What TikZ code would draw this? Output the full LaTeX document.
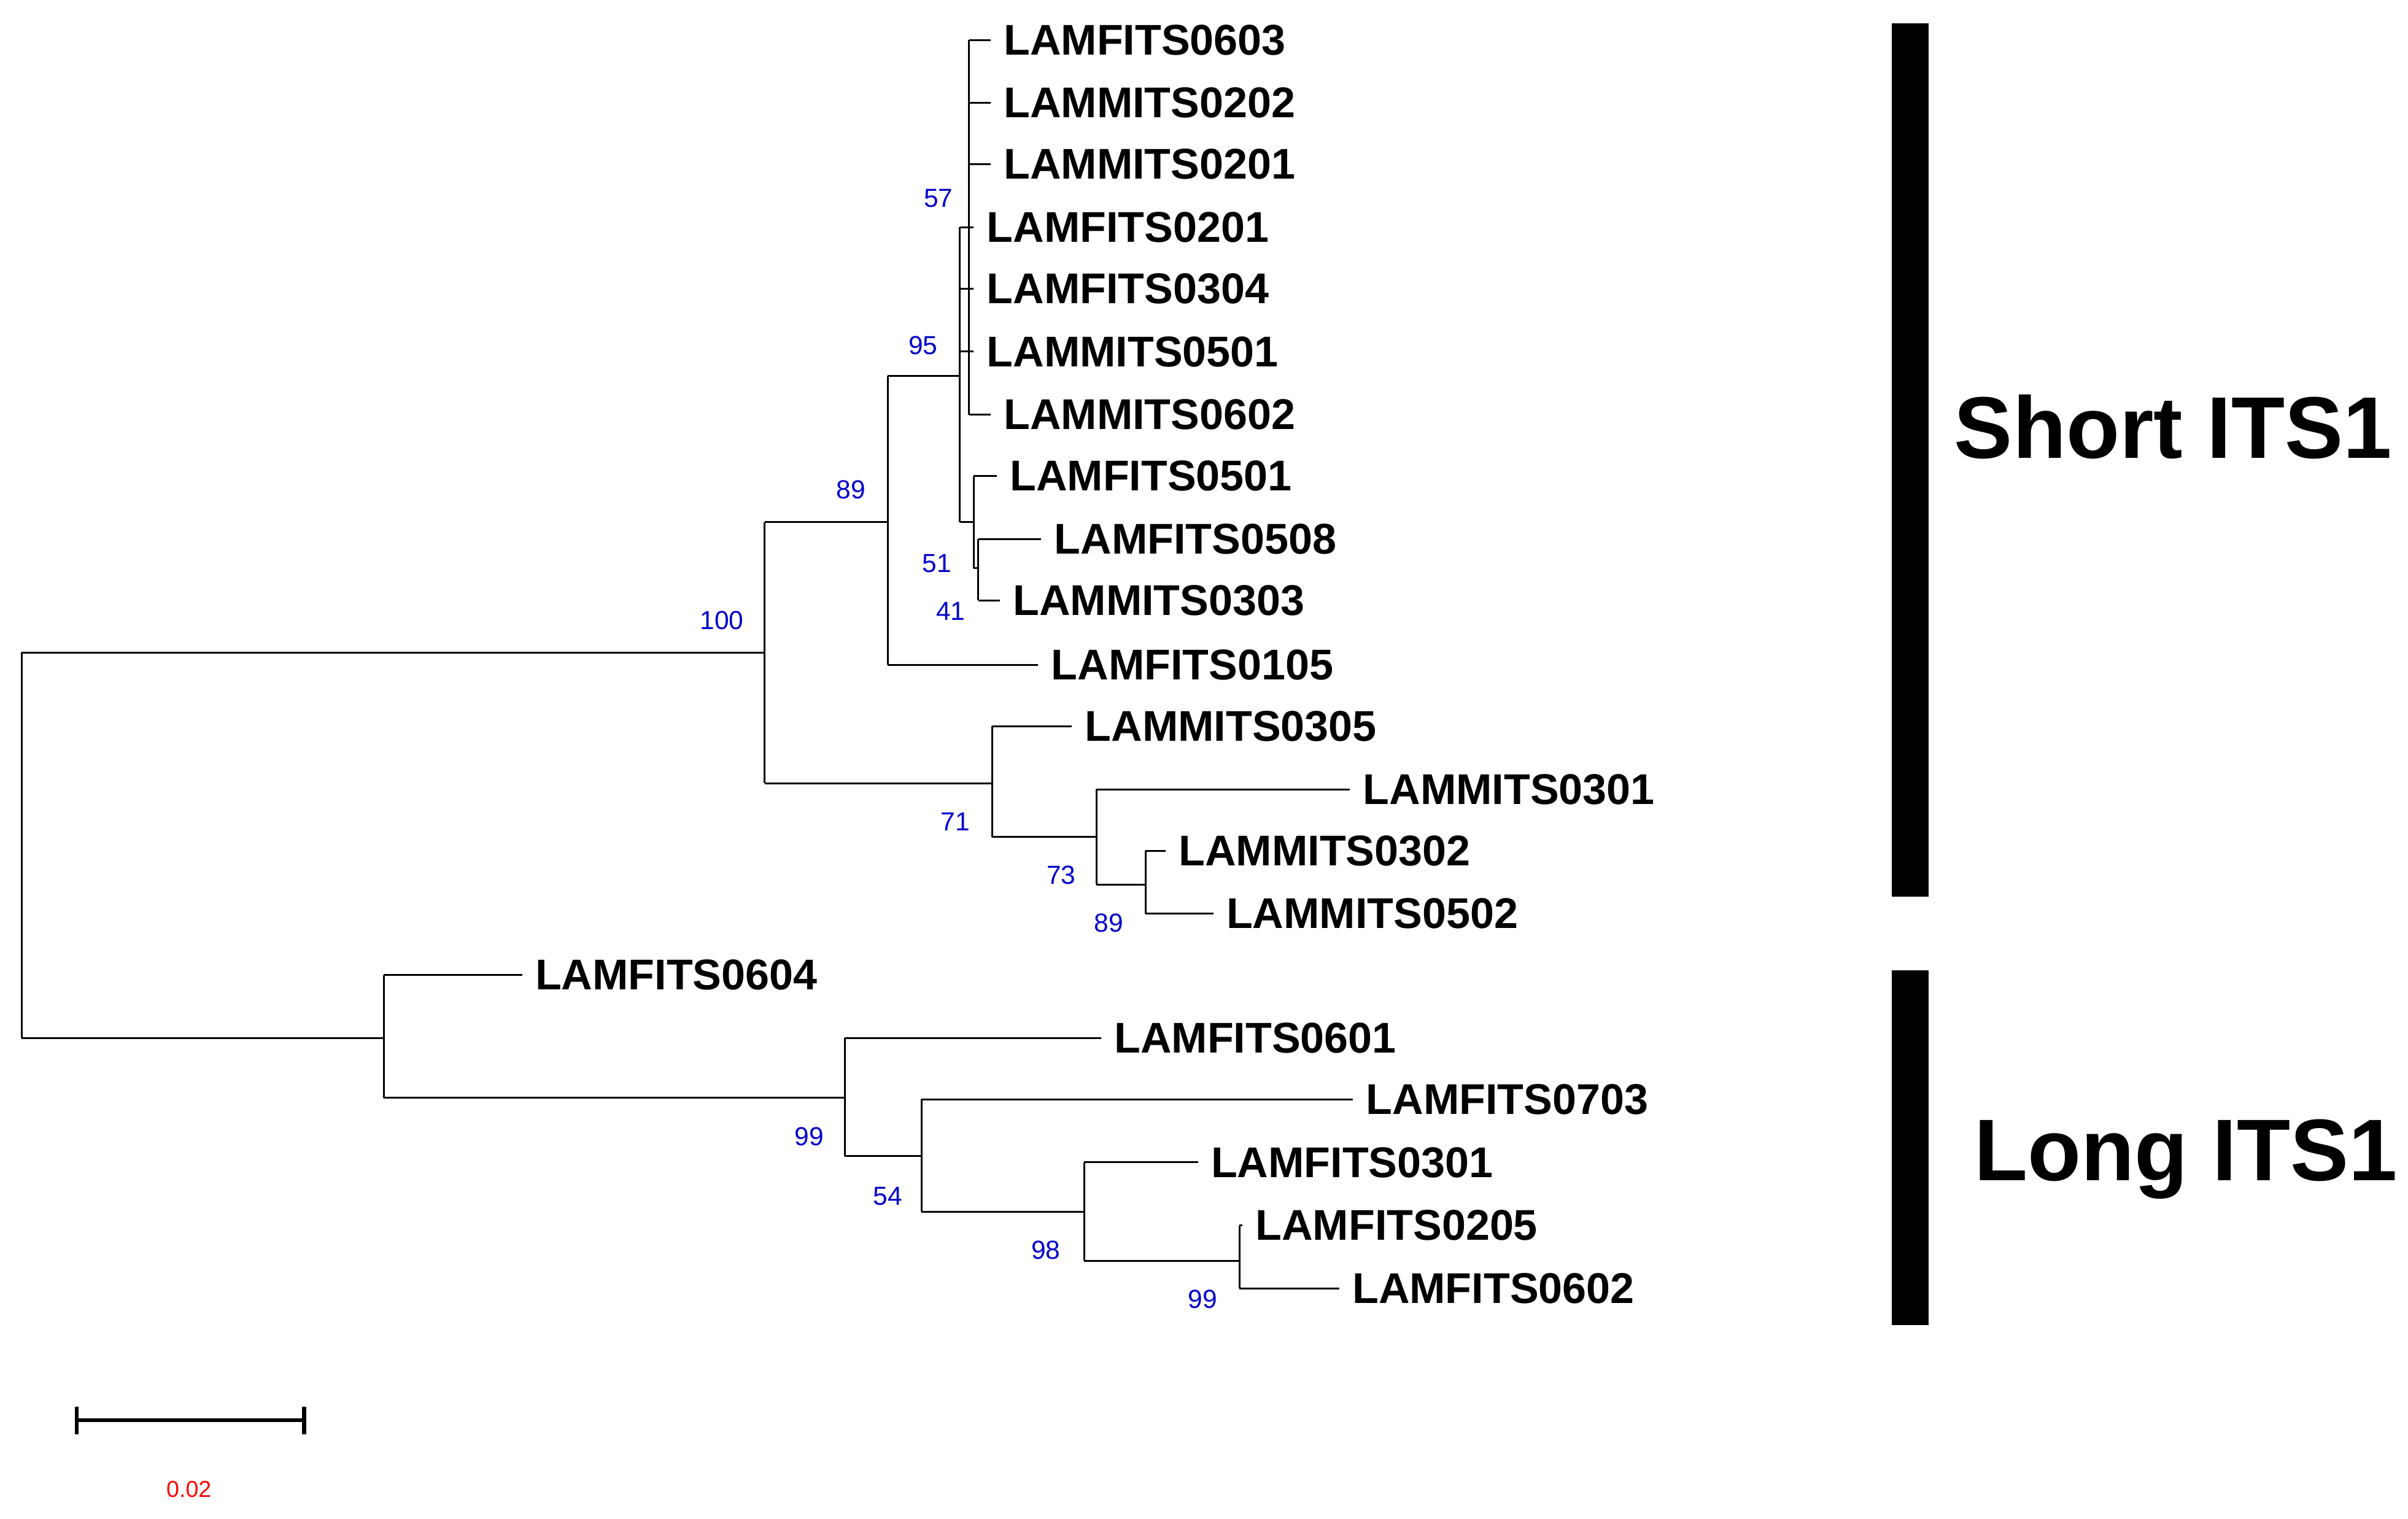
\documentclass[tikz,border=0pt]{standalone}
\usepackage{fontspec}
\setmainfont{Liberation Sans}
\begin{document}
\begin{tikzpicture}[x=1pt,y=-1pt,line width=1.2pt,
 leaf/.style={anchor=west,inner xsep=8pt,inner ysep=0pt,font=\fontsize{28}{30}\selectfont\bfseries},
 bs/.style={text=blue!80!black,font=\fontsize{17}{18}\selectfont,inner sep=0pt},
 bar/.style={fill=black,draw=none},
 grp/.style={anchor=west,inner sep=0pt,font=\fontsize{57}{60}\selectfont\bfseries}]
\useasboundingbox (0,0) rectangle (1568,989);
% internal node coordinates
\coordinate (r) at (14,425); \coordinate (r2) at (14,676);
\coordinate (n100) at (498,425);
\coordinate (n89) at (578,340);
\coordinate (n95) at (625,245);
\coordinate (n57) at (631,148);
\coordinate (n51) at (634,340);
\coordinate (n41) at (637,370);
\coordinate (n71) at (646,510);
\coordinate (n73) at (714,545);
\coordinate (n89b) at (746,576);
\coordinate (nL) at (250,676);
\coordinate (n99) at (550,715);
\coordinate (n54) at (600,753);
\coordinate (n98) at (706,789);
\coordinate (n99b) at (807,821);
% leaves
\node[leaf] (l1) at (645,26) {LAMFITS0603};
\node[leaf] (l2) at (645,67) {LAMMITS0202};
\node[leaf] (l3) at (645,107) {LAMMITS0201};
\node[leaf] (l4) at (634,148) {LAMFITS0201};
\node[leaf] (l5) at (634,188) {LAMFITS0304};
\node[leaf] (l6) at (634,229) {LAMMITS0501};
\node[leaf] (l7) at (645,270) {LAMMITS0602};
\node[leaf] (l8) at (649,310) {LAMFITS0501};
\node[leaf] (l9) at (678,351) {LAMFITS0508};
\node[leaf] (l10) at (651,391) {LAMMITS0303};
\node[leaf] (l11) at (676,433) {LAMFITS0105};
\node[leaf] (l12) at (698,473) {LAMMITS0305};
\node[leaf] (l13) at (879,514) {LAMMITS0301};
\node[leaf] (l14) at (759,554) {LAMMITS0302};
\node[leaf] (l15) at (790,595) {LAMMITS0502};
\node[leaf] (l16) at (340,635) {LAMFITS0604};
\node[leaf] (l17) at (717,676) {LAMFITS0601};
\node[leaf] (l18) at (881,716) {LAMFITS0703};
\node[leaf] (l19) at (780,757) {LAMFITS0301};
\node[leaf] (l20) at (809,798) {LAMFITS0205};
\node[leaf] (l21) at (872,839) {LAMFITS0602};
% branches
\draw (r) -- (r2);
\draw (r) -- (n100);
\draw (r2) -- (nL);
\draw (n100 |- n89) -- (n100 |- n71);
\draw (n100 |- n89) -- (n89);
\draw (n100 |- n71) -- (n71);
\draw (n89 |- n95) -- (n89 |- l11);
\draw (n89 |- n95) -- (n95);
\draw (n89 |- l11) -- (l11.west);
\draw (n95 |- n57) -- (n95 |- n51);
\draw (n95 |- n57) -- (n57);
\draw (n95 |- n51) -- (n51);
\draw (n95 |- l4) -- (l4.west);
\draw (n95 |- l5) -- (l5.west);
\draw (n95 |- l6) -- (l6.west);
\draw (n57 |- l1) -- (n57 |- l7);
\foreach \l in {l1,l2,l3,l7} \draw (n57 |- \l) -- (\l.west);
\draw (n51 |- l8) -- (n51 |- n41);
\draw (n51 |- l8) -- (l8.west);
\draw (n51 |- n41) -- (n41);
\draw (n41 |- l9) -- (n41 |- l10);
\draw (n41 |- l9) -- (l9.west);
\draw (n41 |- l10) -- (l10.west);
\draw (n71 |- l12) -- (n71 |- n73);
\draw (n71 |- l12) -- (l12.west);
\draw (n71 |- n73) -- (n73);
\draw (n73 |- l13) -- (n73 |- n89b);
\draw (n73 |- l13) -- (l13.west);
\draw (n73 |- n89b) -- (n89b);
\draw (n89b |- l14) -- (n89b |- l15);
\draw (n89b |- l14) -- (l14.west);
\draw (n89b |- l15) -- (l15.west);
\draw (nL |- l16) -- (nL |- n99);
\draw (nL |- l16) -- (l16.west);
\draw (nL |- n99) -- (n99);
\draw (n99 |- l17) -- (n99 |- n54);
\draw (n99 |- l17) -- (l17.west);
\draw (n99 |- n54) -- (n54);
\draw (n54 |- l18) -- (n54 |- n98);
\draw (n54 |- l18) -- (l18.west);
\draw (n54 |- n98) -- (n98);
\draw (n98 |- l19) -- (n98 |- n99b);
\draw (n98 |- l19) -- (l19.west);
\draw (n98 |- n99b) -- (n99b);
\draw (n99b |- l20) -- (n99b |- l21);
\draw (n99b |- l20) -- (l20.west);
\draw (n99b |- l21) -- (l21.west);
% bootstrap values
\node[bs] (b1) at (470,404) {100};
\node[bs] (b2) at (554,319) {89};
\node[bs] (b3) at (601,225) {95};
\node[bs] (b4) at (611,129) {57};
\node[bs] (b5) at (610,367) {51};
\node[bs] (b6) at (619,398) {41};
\node[bs] (b7) at (622,535) {71};
\node[bs] (b8) at (691,570) {73};
\node[bs] (b9) at (722,601) {89};
\node[bs] (b10) at (527,740) {99};
\node[bs] (b11) at (578,779) {54};
\node[bs] (b12) at (681,814) {98};
\node[bs] (b13) at (783,846) {99};
% group bars
\fill[bar] (1232,15) rectangle (1256,584);
\fill[bar] (1232,632) rectangle (1256,863);
\node[grp] (g1) at (1272,278) {Short ITS1};
\node[grp] (g2) at (1285,755) {Long ITS1};
% scale bar
\coordinate (s1) at (50,925); \coordinate (s2) at (198,925);
\draw[line width=2.5pt] (s1) -- (s2);
\draw[line width=2.5pt] (50,916) -- (50,934);
\draw[line width=2.5pt] (198,916) -- (198,934);
\node[text=red,font=\fontsize{15}{16}\selectfont,inner sep=0pt] (sl) at (123,970) {0.02};
\end{tikzpicture}
\end{document}
